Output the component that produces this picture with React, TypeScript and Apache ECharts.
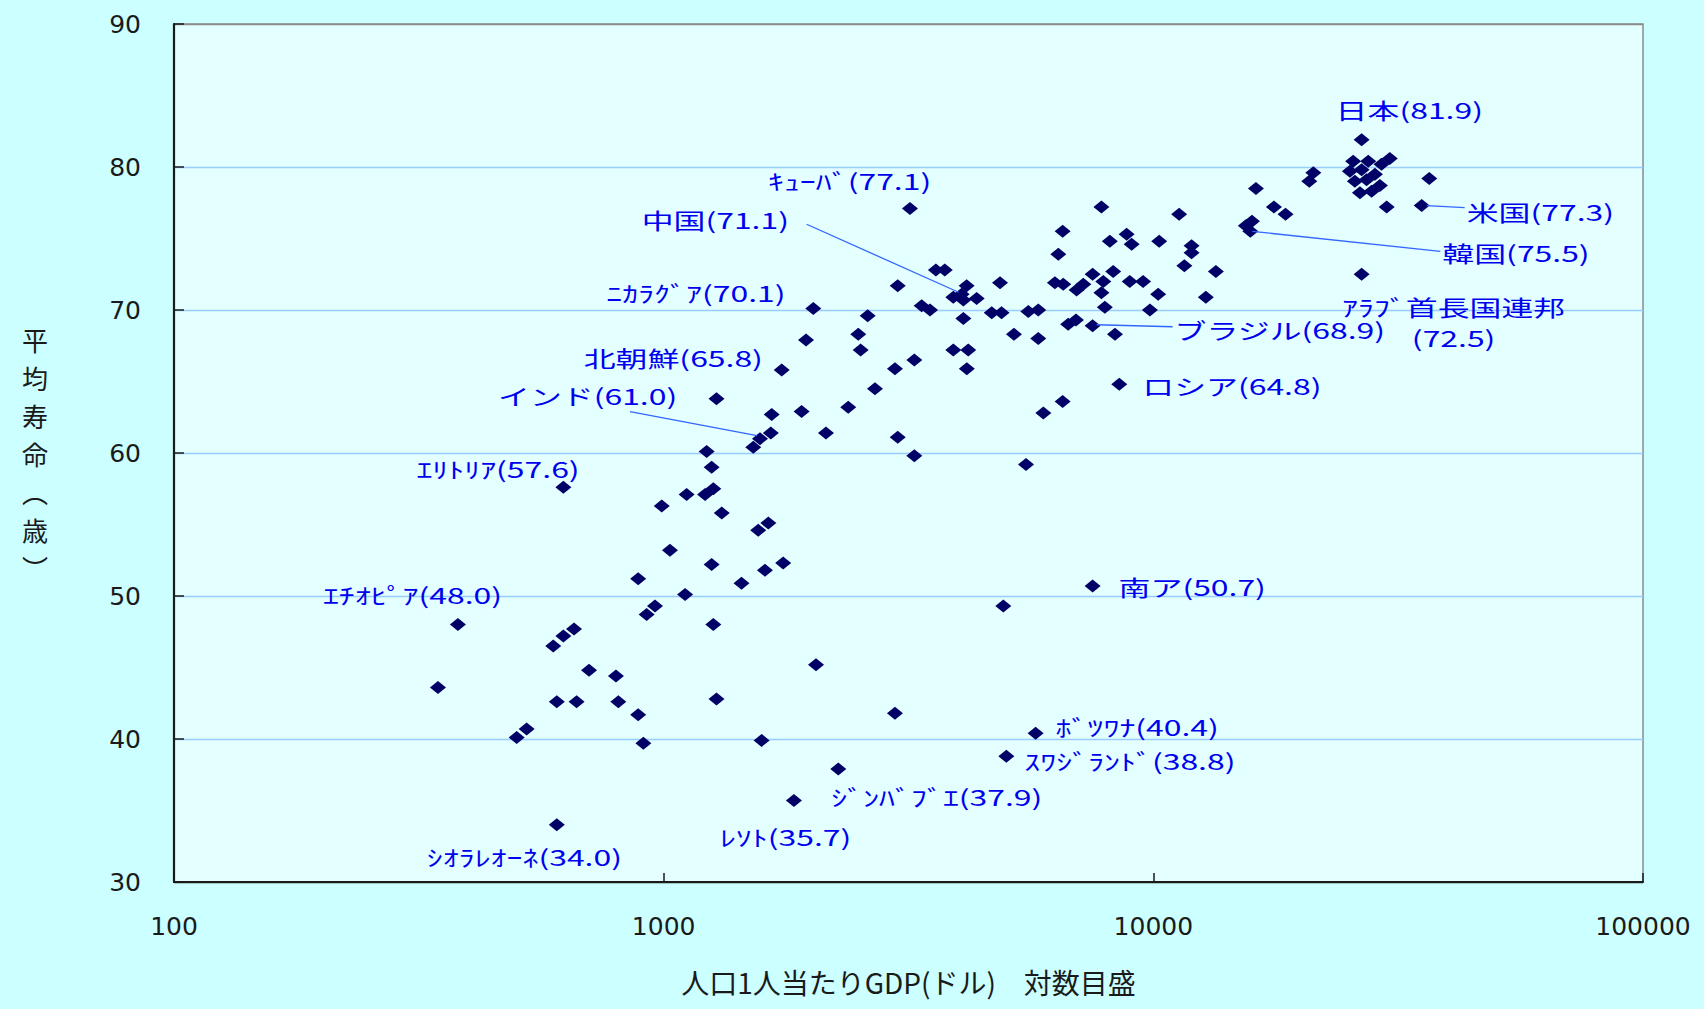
import React, { useEffect, useRef } from "react";
import * as echarts from "echarts";

// ---- data: unlabeled countries (GDP per capita in US$, life expectancy in years) ----
const otherGdp: number[] = [
  1282, 1662, 1655, 1524, 1224, 1253, 1114, 1263, 1215, 991, 1314, 1560, 1636, 1030, 1253, 1610,
  1754, 1442, 887, 1106, 923, 960, 1263, 595, 624, 656, 704, 799, 346, 605, 664, 808, 887, 1282,
  501, 525, 909, 1585, 4939, 2047, 2967,
  7834, 6528, 8150, 6397, 3597, 3750, 4863, 3006, 6295, 6546, 6971, 7194, 7516, 8280, 7903, 7834,
  7961, 4156, 3904, 4357, 4093, 2610, 3364, 3499, 4093, 4677, 4898, 5555, 5821, 6700, 6950, 8350,
  1953, 2497, 2525, 5192, 5821, 3904, 4188, 4160, 3250, 2967, 2701, 6528, 5962, 2382, 1913, 2145,
  3006, 3250, 5495,
  30400, 29240, 25590, 27470, 25200, 26630, 28350, 25800, 27260, 29020, 26420, 27910, 29960, 36600,
  21220, 20820, 16200, 17630, 18620, 15450, 15900, 11290, 8820, 9030, 10280, 11970, 11970, 11570,
  13420, 8950, 9530, 10230, 12800, 9840,
];
const otherLife: number[] = [
  63.8, 62.7, 61.4, 60.4, 60.1, 59.0, 57.1, 57.5, 57.1, 56.3, 55.8, 54.6, 55.1, 53.2, 52.2, 51.8,
  52.3, 50.9, 51.2, 50.1, 48.7, 49.3, 48.0, 46.5, 47.2, 47.7, 44.8, 44.4, 43.6, 42.6, 42.6, 42.6, 41.7, 42.8,
  40.1, 40.7, 39.7, 39.9, 49.3, 45.2, 41.8,
  77.2, 75.5, 74.8, 73.9, 72.8, 72.8, 71.9, 71.7, 71.9, 71.8, 71.4, 71.8, 72.5, 72.7, 72.0, 71.2,
  70.2, 71.7, 70.9, 70.8, 70.7, 69.6, 70.3, 70.0, 69.4, 69.8, 69.8, 69.9, 70.0, 69.0, 69.3, 68.3,
  67.9, 68.3, 67.2, 68.3, 68.0, 67.2, 67.2, 65.9, 66.5, 65.9, 64.5, 63.6, 62.8, 63.2, 62.9, 61.4,
  61.1, 59.8, 59.2,
  80.6, 80.2, 80.4, 80.4, 79.7, 79.8, 79.5, 79.0, 79.1, 78.7, 78.2, 78.3, 77.2, 79.2,
  79.6, 79.0, 78.5, 77.2, 76.7, 75.9, 76.2, 76.7, 75.3, 74.6, 74.8, 74.5, 74.0, 73.1,
  72.7, 72.0, 72.0, 71.1, 70.9, 70.0,
];

// ---- data: labeled countries ----
const namedCountry: string[] = [
  "日本", "ｷｭｰﾊﾞ", "中国", "ﾆｶﾗｸﾞｱ", "北朝鮮", "インド", "ｴﾘﾄﾘｱ", "ｴﾁｵﾋﾟｱ", "ｼｵﾗﾚｵｰﾈ", "ﾚｿﾄ",
  "ｼﾞﾝﾊﾞﾌﾞｴ", "ｽﾜｼﾞﾗﾝﾄﾞ", "ﾎﾞﾂﾜﾅ", "南ア", "ロシア", "ブラジル", "ｱﾗﾌﾞ首長国連邦", "韓国", "米国",
];
const namedGdp: number[] = [
  26630, 3184, 4060, 2021, 1742, 1573, 624, 380, 605, 1845, 2273, 5010, 5749, 7516, 8520, 7516, 26630, 15780, 35320,
];
const namedLife: number[] = [
  81.9, 77.1, 71.1, 70.1, 65.8, 61.0, 57.6, 48.0, 34.0, 35.7, 37.9, 38.8, 40.4, 50.7, 64.8, 68.9, 72.5, 75.5, 77.3,
];

const xTicks: number[] = [100, 1000, 10000, 100000];
const yRange: number[] = [30, 90, 10];

const X_NAME = "人口1人当たりGDP(ドル)　対数目盛";
const Y_NAME = "平\n均\n寿\n命\n︵\n歳\n︶";

// ---- label layout (pixel offsets of the label from its point) ----
type Layout = { dx: number; dy: number; align?: "left" | "center"; leader?: [number, number, number, number]; twoLine?: boolean };
const LABEL_LAYOUT: Record<string, Layout> = {
  "日本": { dx: -26, dy: -30 },
  "ｷｭｰﾊﾞ": { dx: -142, dy: -28 },
  "中国": { dx: -320, dy: -75, leader: [-155, -70, -3, -2] },
  "ﾆｶﾗｸﾞｱ": { dx: -207, dy: -16 },
  "北朝鮮": { dx: -198, dy: -13 },
  "インド": { dx: -262, dy: -43, leader: [-130, -27, -3, -3] },
  "ｴﾘﾄﾘｱ": { dx: -147, dy: -19 },
  "ｴﾁｵﾋﾟｱ": { dx: -135, dy: -30 },
  "ｼｵﾗﾚｵｰﾈ": { dx: -130, dy: 32 },
  "ﾚｿﾄ": { dx: -74, dy: 36 },
  "ｼﾞﾝﾊﾞﾌﾞｴ": { dx: -7, dy: 27 },
  "ｽﾜｼﾞﾗﾝﾄﾞ": { dx: 18, dy: 4 },
  "ﾎﾞﾂﾜﾅ": { dx: 20, dy: -7 },
  "南ア": { dx: 26, dy: 0 },
  "ロシア": { dx: 23, dy: 1 },
  "ブラジル": { dx: 82, dy: 4, leader: [4, -1, 80, 1] },
  "ｱﾗﾌﾞ首長国連邦": { dx: 92, dy: 48, align: "center", twoLine: true },
  "韓国": { dx: 192, dy: 21, leader: [2, 0, 190, 20] },
  "米国": { dx: 45, dy: 6, leader: [5, 0, 43, 2] },
};

const LABEL_COLOR = "#0000EE";
const LEADER_COLOR = "#3366FF";
const CJK = '"Noto Sans CJK JP", "Noto Sans", sans-serif';

export default function App() {
  const ref = useRef<HTMLDivElement>(null);

  useEffect(() => {
    document.body.style.margin = "0";
    document.body.style.background = "#CCFFFF";
    const chart = echarts.init(ref.current!, null, { renderer: "svg" });

    const points = [
      ...otherGdp.map((g, i) => [g, otherLife[i]]),
      ...namedGdp.map((g, i) => [g, namedLife[i]]),
    ];

    chart.setOption({
      animation: false,
      backgroundColor: "#CCFFFF",
      grid: {
        left: 174,
        top: 24,
        width: 1469,
        height: 858,
        show: true,
        backgroundColor: "#E3FFFF",
        borderColor: "#8A8A8A",
        borderWidth: 1.5,
        containLabel: false,
        outerBoundsMode: "none",
      },
      xAxis: {
        type: "log",
        logBase: 10,
        min: xTicks[0],
        max: xTicks[xTicks.length - 1],
        name: X_NAME,
        nameLocation: "middle",
        nameGap: 86,
        nameTextStyle: { fontSize: 28, fontFamily: CJK, color: "#1a1a1a", align: "center", verticalAlign: "top" },
        axisLine: { show: true, onZero: false, lineStyle: { color: "#1a1a1a", width: 2 } },
        axisTick: { show: true, inside: true, length: 9, lineStyle: { color: "#1a1a1a", width: 1.5 } },
        minorTick: { show: false },
        axisLabel: {
          margin: 32,
          fontSize: 25,
          fontFamily: "DejaVu Sans",
          color: "#1a1a1a",
          formatter: (v: number) => String(Math.round(v)),
        },
        splitLine: { show: false },
      },
      yAxis: {
        type: "value",
        min: yRange[0],
        max: yRange[1],
        interval: yRange[2],
        name: Y_NAME,
        nameLocation: "middle",
        nameRotate: 0,
        nameGap: 139,
        nameTextStyle: {
          fontSize: 26,
          lineHeight: 38,
          fontFamily: CJK,
          color: "#1a1a1a",
          align: "center",
          verticalAlign: "middle",
          padding: [0, 0, 14, 0],
        },
        axisLine: { show: true, lineStyle: { color: "#1a1a1a", width: 2.2 } },
        axisTick: { show: true, inside: true, length: 10, lineStyle: { color: "#1a1a1a", width: 1.5 } },
        axisLabel: { margin: 33, fontSize: 25, fontFamily: "DejaVu Sans", color: "#1a1a1a" },
        splitLine: {
          show: true,
          lineStyle: {
            color: ["#1a1a1a", "#99CCFF", "#99CCFF", "#99CCFF", "#99CCFF", "#99CCFF", "#8A8A8A"],
            width: 1.3,
          },
        },
      },
      series: [
        {
          type: "scatter",
          data: points,
          symbol: "diamond",
          symbolSize: [16, 13],
          itemStyle: { color: "#000066", opacity: 1 },
          silent: true,
          z: 5,
        },
      ],
    });

    const graphics: any[] = [];
    namedCountry.forEach((name, i) => {
      const lay = LABEL_LAYOUT[name];
      if (!lay) return;
      const p = chart.convertToPixel({ gridIndex: 0 }, [namedGdp[i], namedLife[i]]) as number[];
      const [px, py] = p;
      const val = namedLife[i].toFixed(1);
      const text = lay.twoLine ? `${name}\n(${val})` : `${name}(${val})`;
      const align = lay.align || "left";
      graphics.push({
        type: "text",
        x: px + lay.dx,
        y: py + lay.dy,
        scaleX: 1.45,
        z: 100,
        silent: true,
        style: {
          text,
          fill: LABEL_COLOR,
          fontSize: 22,
          fontFamily: CJK,
          lineHeight: 31,
          align,
          verticalAlign: "middle",
          textAlign: align,
          textVerticalAlign: "middle",
        },
      });
      if (lay.leader) {
        const [x1, y1, x2, y2] = lay.leader;
        graphics.push({
          type: "line",
          z: 50,
          silent: true,
          shape: { x1: px + x1, y1: py + y1, x2: px + x2, y2: py + y2 },
          style: { stroke: LEADER_COLOR, lineWidth: 1.3 },
        });
      }
    });
    chart.setOption({ graphic: graphics });

    return () => chart.dispose();
  }, []);

  return (
    <div
      ref={ref}
      style={{ position: "absolute", left: 0, top: 0, width: 1704, height: 1009, background: "#CCFFFF" }}
    />
  );
}
